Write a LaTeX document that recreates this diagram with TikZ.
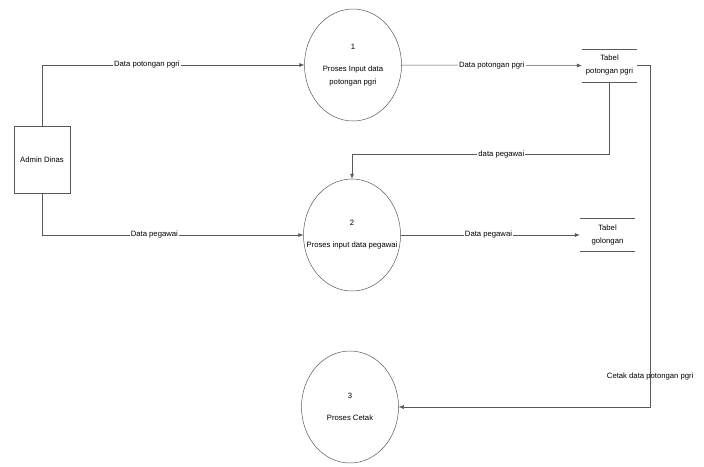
\documentclass[tikz,border=0pt]{standalone}
\usepackage{fontspec}
\setmainfont{Liberation Sans}
\usetikzlibrary{shapes.geometric,arrows.meta}

\begin{document}
\begin{tikzpicture}[x=1pt, y=-1pt,
                    every node/.style={font=\fontsize{7.7}{13}\selectfont},
                    process/.style={ellipse, draw=gray!70!black, line width=0.5pt, minimum width=97pt, minimum height=112pt, align=center, inner sep=0pt},
                    entity/.style={rectangle, draw=gray!70!black, line width=0.5pt, minimum width=56pt, minimum height=67pt},
                    store/.style={minimum width=55pt, minimum height=33pt, align=center, inner sep=0pt},
                    flow/.style={draw=gray!70!black, line width=0.5pt, -{Latex[length=5pt,width=4pt]}},
                    lbl/.style={fill=white, inner sep=1pt},
                    bare/.style={inner sep=1pt}
                ]
                \useasboundingbox (0,0) rectangle (704,466);

                % External entity
                \node[entity] (admin) at (42,159.5) {Admin Dinas};

                % Processes
                \node[process] (p1) at (353,65) {1\\[9pt]Proses Input data\\potongan pgri};
                \node[process, inner xsep=-15pt] (p2) at (352,235) {2\\[9pt]Proses input data pegawai};
                \node[process] (p3) at (350,407) {3\\[9pt]Proses Cetak};

                % Data stores
                \node[store] (t1) at (609.5,65.5) {Tabel\\potongan pgri};
                \node[store] (t2) at (607.5,235) {Tabel\\golongan};
                \foreach \t in {t1,t2} {
                    \draw[gray!70!black, line width=0.5pt] (\t.north west) -- (\t.north east);
                    \draw[gray!70!black, line width=0.5pt] (\t.south west) -- (\t.south east);
                }

                % Data flows
                \draw[flow] (admin.north) |- node[lbl, pos=0.70] (l1) {Data potongan pgri} (p1.west);
                \draw[flow] (p1.east) -- node[lbl] (l2) {Data potongan pgri} (t1.west);
                \draw[flow] (t1.south) -- ++(0,72) -| node[lbl, pos=0.21] (l3) {data pegawai} (p2.north);
                \draw[flow] (admin.south) |- node[lbl, pos=0.715] (l4) {Data pegawai} (p2.west);
                \draw[flow] (p2.east) -- node[lbl, pos=0.49] (l5) {Data pegawai} (t2.west);
                \draw[flow] (t1.east) -- ++(13,0) |- node[bare, pos=0.455] (l6) {Cetak data potongan pgri} (p3.east);
            \end{tikzpicture}
\end{document}
